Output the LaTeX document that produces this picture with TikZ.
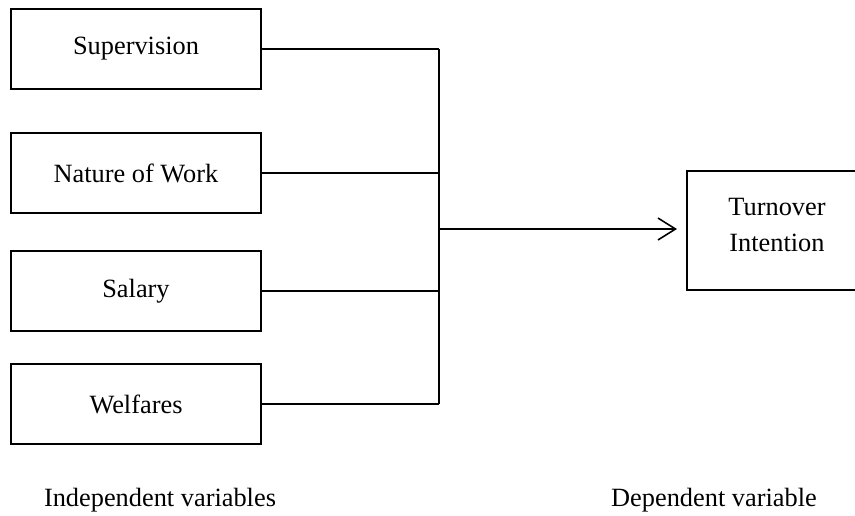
\documentclass[tikz,border=0pt]{standalone}
\usepackage{fontspec}
\setmainfont{Liberation Serif}
\usetikzlibrary{positioning, arrows.meta, calc}
\tikzset{
    varbox/.style={rectangle, draw=black, line width=0.9pt, minimum width=5cm, minimum height=1.6cm, align=center, font=\fontsize{15}{20.4}\selectfont, inner sep=0pt},
    depbox/.style={rectangle, draw=black, line width=0.9pt, minimum width=3.6cm, minimum height=2.38cm, align=center, font=\fontsize{15}{20.4}\selectfont, inner sep=0pt},
    link/.style={line width=0.9pt, color=black},
    arr/.style={-{Straight Barb[length=10pt, width=12.5pt, line width=0.9pt]}, line width=0.9pt, color=black},
    grouplbl/.style={font=\fontsize{15}{18}\selectfont}
}
\begin{document}
\begin{tikzpicture}[x=0.02cm, y=-0.02cm]
            \useasboundingbox (0,0) rectangle (855,515);
            \node[varbox] (sup) at (136,49) {Supervision};
            \node[varbox] (work) at (136,173) {Nature of Work};
            \node[varbox] (salary) at (136,291) {Salary};
            \node[varbox] (welfare) at (136,404) {Welfares};
            \node[depbox] (turnover) at (777,230.5) {Turnover\\Intention\\[-14pt]};
            \coordinate (bustop) at (439,49);
            \coordinate (busbot) at (439,404);
            \coordinate (busmid) at (439,229);
            \coordinate (tip) at (677,229);
            \draw[link] (sup.east) -- (bustop);
            \draw[link] (work.east) -- (work.east -| bustop);
            \draw[link] (salary.east) -- (salary.east -| bustop);
            \draw[link] (welfare.east) -- (busbot);
            \draw[link] (bustop) -- (busbot);
            \draw[arr] (busmid) -- (tip);
            \node[grouplbl] (indep) at (160,500) {Independent variables};
            \node[grouplbl] (dep) at (714,500) {Dependent variable};
        \end{tikzpicture}
\end{document}
